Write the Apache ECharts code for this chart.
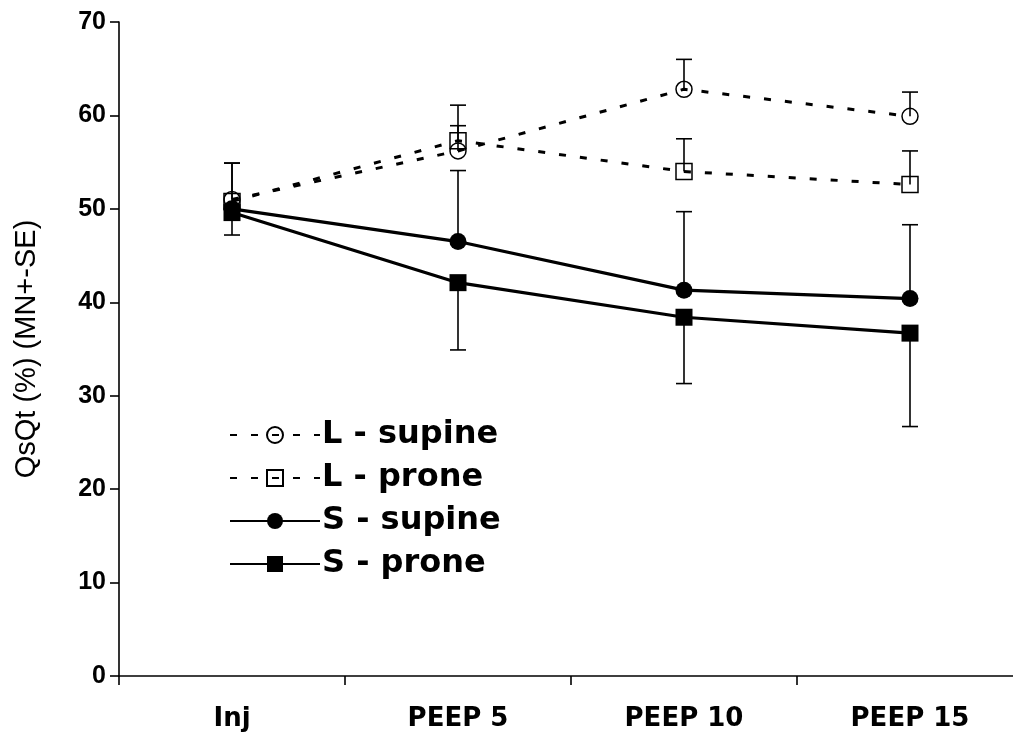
<!DOCTYPE html>
<html>
<head>
<meta charset="utf-8">
<script src="https://cdn.jsdelivr.net/npm/echarts@6/dist/echarts.min.js"></script>
<style>
html,body{margin:0;padding:0;background:#fff;overflow:hidden;}
#chart{width:1030px;height:740px;}
</style>
</head>
<body>
<div id="chart"></div>
<script>
const categories = ['Inj', 'PEEP 5', 'PEEP 10', 'PEEP 15'];
const yTicks = [0, 10, 20, 30, 40, 50, 60, 70];

const lSupine = [51.0, 56.2, 62.8, 59.9];
const lProne  = [50.8, 57.3, 54.0, 52.6];
const sSupine = [50.0, 46.5, 41.3, 40.4];
const sProne  = [49.6, 42.1, 38.4, 36.7];

// standard errors (drawn upward for L and S-supine, downward for S-prone)
const lSupineSE = [3.9, 4.9, 3.2, 2.6];
const lProneSE  = [4.1, 1.6, 3.5, 3.6];
const sSupineSE = [0.0, 7.6, 8.4, 7.9];
const sProneSE  = [2.4, 7.2, 7.1, 10.0];

const FONT = "'Liberation Sans', Arial, sans-serif";
const WIDE = "'DejaVu Sans', 'Liberation Sans', sans-serif";

function errData(vals, se, dir) {
  return vals.map((v, i) => [i, v, v + dir * se[i]]);
}
function errSeries(name, data) {
  return {
    type: 'custom',
    name: name + ' SE',
    z: 1,
    silent: true,
    data: data,
    renderItem: function (params, api) {
      const x = api.value(0);
      const p0 = api.coord([x, api.value(1)]);
      const p1 = api.coord([x, api.value(2)]);
      const cw = 8;
      return {
        type: 'group',
        children: [
          {type: 'line', shape: {x1: p0[0], y1: p0[1], x2: p1[0], y2: p1[1]}, style: {stroke: '#000', lineWidth: 1.6}},
          {type: 'line', shape: {x1: p1[0] - cw, y1: p1[1], x2: p1[0] + cw, y2: p1[1]}, style: {stroke: '#000', lineWidth: 1.6}}
        ]
      };
    }
  };
}

const dash = [7, 14];
const chart = echarts.init(document.getElementById('chart'));
chart.setOption({
  animation: false,
  backgroundColor: '#fff',
  grid: {left: 119, width: 904, top: 22, height: 654, containLabel: false},
  legend: {
    orient: 'vertical',
    left: 224, top: 414,
    itemWidth: 90, itemHeight: 20, itemGap: 11,
    textStyle: {fontFamily: WIDE, fontWeight: 'bold', fontSize: 32, color: '#000', padding: [0, 0, 0, -3]},
    data: ['L - supine', 'L - prone', 'S - supine', 'S - prone']
  },
  xAxis: {
    type: 'category',
    data: categories,
    boundaryGap: true,
    axisLine: {lineStyle: {color: '#000', width: 1.6}},
    axisTick: {show: true, inside: false, length: 9, lineStyle: {color: '#000', width: 1.6}},
    axisLabel: {fontFamily: WIDE, fontWeight: 'bold', fontSize: 26, color: '#000', margin: 30}
  },
  yAxis: {
    type: 'value',
    min: 0, max: 70, interval: 10,
    name: 'QsQt (%) (MN+-SE)',
    nameLocation: 'middle',
    nameGap: 78,
    nameTextStyle: {fontFamily: FONT, fontSize: 29, color: '#000'},
    splitLine: {show: false},
    axisLine: {show: true, lineStyle: {color: '#000', width: 1.6}},
    axisTick: {show: true, length: 9, lineStyle: {color: '#000', width: 1.6}},
    axisLabel: {fontFamily: FONT, fontWeight: 'bold', fontSize: 25, color: '#000', margin: 13,
      formatter: v => yTicks.includes(v) ? String(v) : ''}
  },
  series: [
    errSeries('L - supine', errData(lSupine, lSupineSE, 1)),
    errSeries('L - prone', errData(lProne, lProneSE, 1)),
    errSeries('S - supine', errData(sSupine, sSupineSE, 1)),
    errSeries('S - prone', errData(sProne, sProneSE, -1)),
    {
      name: 'S - supine', type: 'line', data: sSupine, z: 3,
      symbol: 'circle', symbolSize: 17,
      lineStyle: {color: '#000', width: 3.2},
      itemStyle: {color: '#000', borderColor: '#000', borderWidth: 0}
    },
    {
      name: 'S - prone', type: 'line', data: sProne, z: 3,
      symbol: 'rect', symbolSize: 17,
      lineStyle: {color: '#000', width: 3.2},
      itemStyle: {color: '#000', borderColor: '#000', borderWidth: 0}
    },
    {
      name: 'L - supine', type: 'line', data: lSupine, z: 4,
      symbol: 'circle', symbolSize: 16,
      lineStyle: {color: '#000', width: 3, type: dash},
      itemStyle: {color: 'transparent', borderColor: '#000', borderWidth: 1.5}
    },
    {
      name: 'L - prone', type: 'line', data: lProne, z: 4,
      symbol: 'rect', symbolSize: 16,
      lineStyle: {color: '#000', width: 3, type: dash},
      itemStyle: {color: 'transparent', borderColor: '#000', borderWidth: 1.5}
    }
  ]
});
</script>
</body>
</html>
